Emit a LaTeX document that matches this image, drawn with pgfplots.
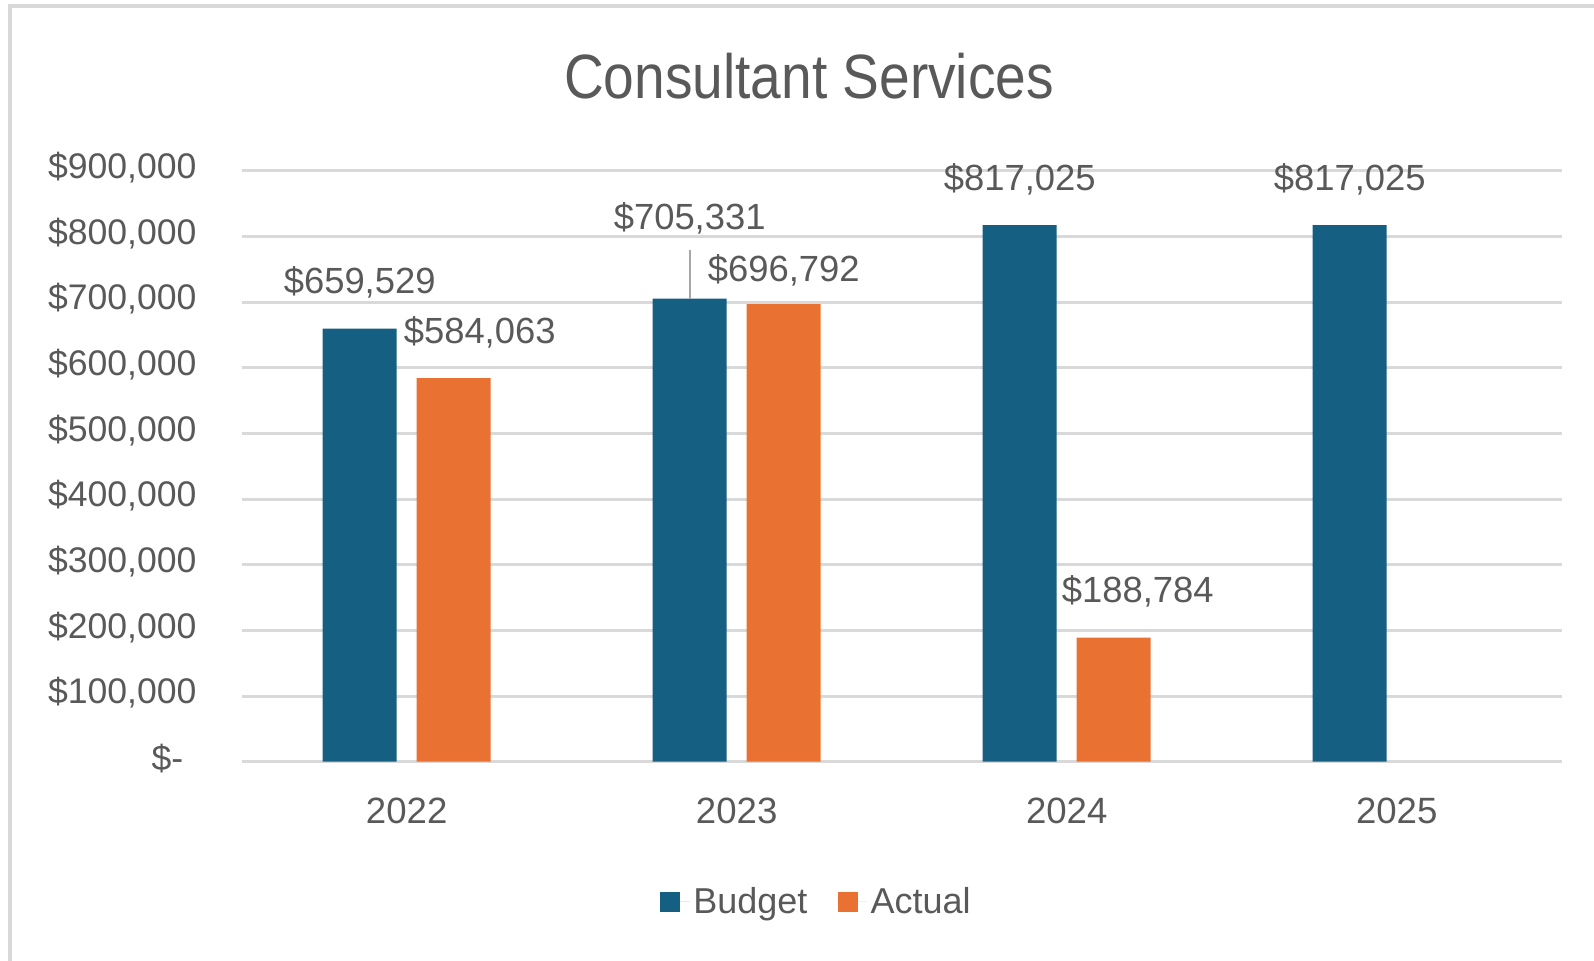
\documentclass[border=0pt]{standalone}
\usepackage{fontspec}
\setmainfont{Liberation Sans}
\newfontfamily\titlefont{Liberation Sans}[FakeStretch=0.88]
\usepackage{pgfplots}
\usepackage{pgfplotstable}
\pgfplotsset{compat=1.18}

\definecolor{budget}{HTML}{156082}
\definecolor{actual}{HTML}{E97132}
\definecolor{txt}{HTML}{595959}
\definecolor{gridc}{HTML}{D9D9D9}
\definecolor{lead}{HTML}{A6A6A6}

% x = year index, dx/dy = shift of the value label (pt)
\pgfplotstableread{
x y dx dy
0 659529 0 0
1 705331 0 17.2
2 817025 0 0
3 817025 0 0
}\budgetdata

\pgfplotstableread{
x y dx dy
0 584063 13 0
1 696792 0 -6.3
2 188784 12 0
}\actualdata

\begin{document}
\begin{tikzpicture}
\begin{axis}[
    at={(120.85pt,99.15pt)}, anchor=south west,
    scale only axis, width=660pt, height=295.5pt,
    xmin=-0.5, xmax=3.5, ymin=0, ymax=900000,
    clip=false,
    ybar=10pt, bar width=37pt,
    axis line style={draw=none},
    tick style={draw=none},
    ymajorgrids,
    grid style={gridc, line width=1.5pt},
    scaled y ticks=false,
    xtick={0,1,2,3},
    xticklabels={2022,2023,2024,2025},
    ytick={0,100000,...,900000},
    yticklabels={{\$-\kern6.6pt},{\$100,000},{\$200,000},{\$300,000},{\$400,000},{\$500,000},{\$600,000},{\$700,000},{\$800,000},{\$900,000}},
    yticklabel style={anchor=east, inner sep=0pt, xshift=-22.4pt, yshift=1.5pt,
        font=\fontsize{17.8}{20}\selectfont, text=txt},
    xticklabel style={anchor=base, inner sep=0pt, yshift=-26.6pt,
        font=\fontsize{18.3}{21}\selectfont, text=txt},
    /pgf/number format/.cd, fixed, precision=0, 1000 sep={,}, assume math mode=true,
    /pgfplots/.cd,
    legend style={at={(0.4362,-0.2369)}, anchor=center, draw=none, fill=none,
        legend columns=2, font=\fontsize{18}{21}\selectfont, text=txt,
        /tikz/every even column/.append style={column sep=13pt}},
    legend image code/.code={\fill[#1] (0pt,-5pt) rectangle (10pt,5pt);
        \path (0pt,0pt) -- (14.5pt,0pt);},
    value label/.style={
        visualization depends on={\thisrow{dx}\as\dxl},
        visualization depends on={\thisrow{dy}\as\dyl},
        nodes near coords={\$\pgfmathprintnumber{\pgfplotspointmeta}},
        every node near coord/.append style={anchor=base, inner sep=0pt,
            xshift={\dxl*1pt}, yshift={17.5pt+\dyl*1pt},
            font=\fontsize{18.2}{21}\selectfont, text=txt},
    },
]
\addplot[fill=budget, draw=none, value label] table[x=x, y=y] {\budgetdata};
\addplot[fill=actual, draw=none, value label] table[x=x, y=y] {\actualdata};
\legend{Budget, Actual}
\draw[lead, line width=1.2pt] ([xshift=-23.5pt]axis cs:1,705331) -- ([xshift=-23.5pt, yshift=24.3pt]axis cs:1,705331);
\end{axis}
\node[anchor=base, font=\titlefont\fontsize{31.3}{36}\selectfont, text=txt] at (404.5pt,430.75pt) {Consultant Services};
\draw[gridc, line width=2pt] (5.15pt,-2pt) -- (5.15pt,477pt) -- (800pt,477pt);
\pgfresetboundingbox
\path[use as bounding box] (0,0) rectangle (797pt,480pt);
\end{tikzpicture}
\end{document}
